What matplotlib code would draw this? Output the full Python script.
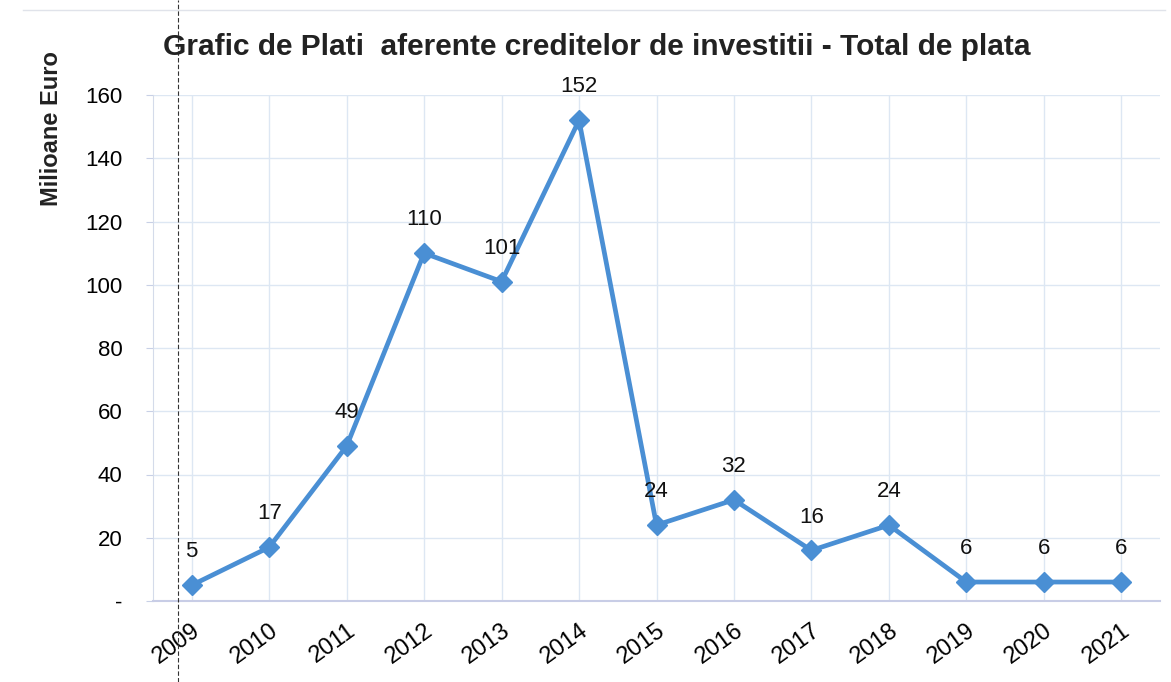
import matplotlib.pyplot as plt
import matplotlib.transforms as mtransforms
from matplotlib.lines import Line2D

plt.rcParams['font.family'] = ['Liberation Sans', 'DejaVu Sans']

years = ['2009', '2010', '2011', '2012', '2013', '2014', '2015',
         '2016', '2017', '2018', '2019', '2020', '2021']
values = [5, 17, 49, 110, 101, 152, 24, 32, 16, 24, 6, 6, 6]
yticks = [0, 20, 40, 60, 80, 100, 120, 140, 160]
ytick_labels = ['-', '20', '40', '60', '80', '100', '120', '140', '160']

fig = plt.figure(figsize=(11.71, 6.82), dpi=100)
ax = fig.add_axes([153 / 1171, 81 / 682, (1160 - 153) / 1171, (601 - 95) / 682])

x = range(len(years))
ax.plot(x, values, color='#4A8FD4', lw=3.4, marker='D', markersize=10,
        solid_joinstyle='miter', zorder=3)
for xi, v in zip(x, values):
    ax.annotate(str(v), (xi, v), xytext=(0, 24), textcoords='offset points',
                ha='center', va='center', fontsize=16, color='#111111')

ax.set_xlim(-0.5, 12.5)
ax.set_ylim(0, 160)
ax.set_yticks(yticks)
ax.set_yticklabels(ytick_labels, fontsize=16)
ax.set_xticks(list(x))
ax.set_xticklabels(years, fontsize=17, rotation=36, ha='right',
                   rotation_mode='anchor')
shift = mtransforms.ScaledTranslation(7 / 100, 0, fig.dpi_scale_trans)
for lab in ax.get_xticklabels():
    lab.set_transform(lab.get_transform() + shift)
ax.tick_params(axis='y', length=5, color='#c8d0e6', pad=17)
ax.tick_params(axis='x', length=0, pad=13)
ax.grid(True, color='#dde7f3', lw=1)
ax.set_axisbelow(True)
for s in ['top', 'right']:
    ax.spines[s].set_visible(False)
ax.spines['left'].set_color('#d4dbea')
ax.spines['bottom'].set_color('#c8cde6')
ax.spines['bottom'].set_linewidth(1.5)

fig.text(52 / 1171, 1 - 129 / 682, 'Milioane Euro', rotation=90,
         ha='center', va='center', fontsize=17, fontweight='bold',
         color='#222222')
fig.text(597 / 1171, 1 - 47 / 682,
         'Grafic de Plati  aferente creditelor de investitii - Total de plata',
         ha='center', va='center', fontsize=21.5, fontweight='bold',
         color='#222222')

# border and scan line
fig.add_artist(Line2D([0.02, 0.995], [1 - 10 / 682, 1 - 10 / 682],
                      transform=fig.transFigure, color='#e0e3ea', lw=1))
fig.add_artist(Line2D([178 / 1171, 178 / 1171], [0, 1],
                      transform=fig.transFigure, color='#333333', lw=0.8,
                      ls=(0, (4, 2))))

fig.savefig('out.png', dpi=100)
